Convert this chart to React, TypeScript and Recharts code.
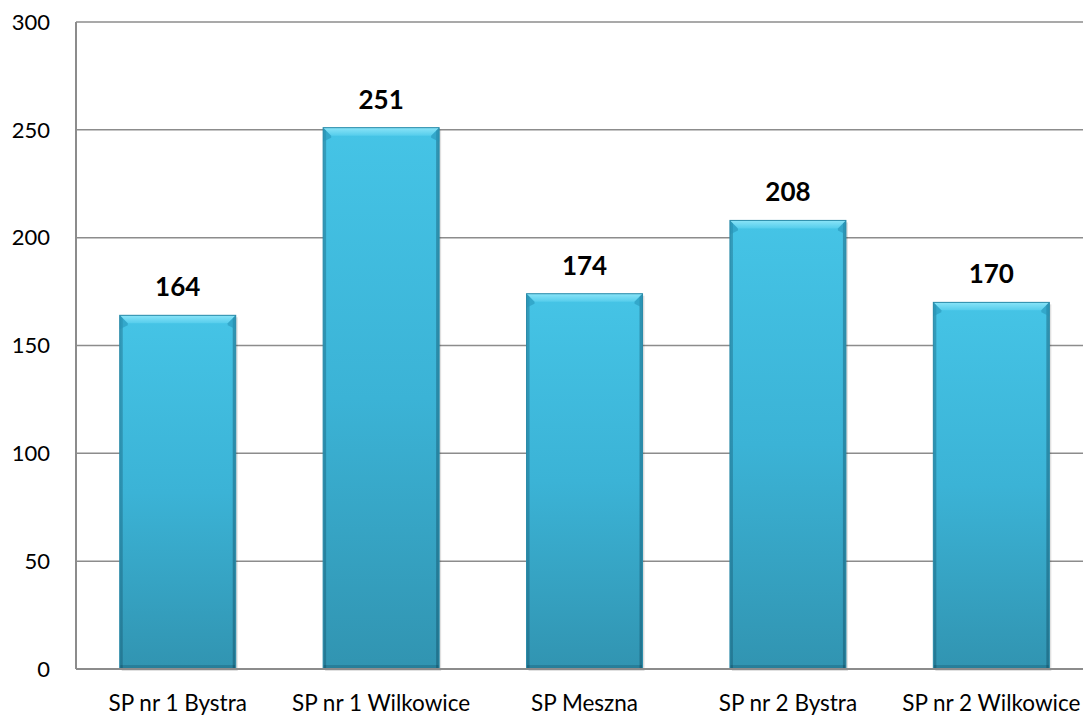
import { BarChart, Bar, XAxis, YAxis, CartesianGrid, LabelList } from "recharts";

const schools = [
  "SP nr 1 Bystra",
  "SP nr 1 Wilkowice",
  "SP Meszna",
  "SP nr 2 Bystra",
  "SP nr 2 Wilkowice",
];
const counts = [164, 251, 174, 208, 170];
const yTicks = [0, 50, 100, 150, 200, 250, 300];

const data = schools.map((name, i) => ({ name, value: counts[i] }));

const FONT = "Lato, 'Open Sans', sans-serif";

// bar with a bevelled top and darker side edges
const BevelBar = (props: any) => {
  const { x, y, width, height } = props;
  if (!height || height <= 0) return null;
  const b = 8;
  const s = 3;
  return (
    <g>
      <rect x={x + 2} y={y + 2} width={width} height={height} fill="rgba(0,0,0,0.12)" />
      <rect x={x} y={y} width={width} height={height} fill="url(#barFill)" />
      <rect x={x} y={y} width={s} height={height} fill="rgba(0,40,60,0.25)" />
      <rect x={x + width - s} y={y} width={s} height={height} fill="rgba(0,40,60,0.3)" />
      <polygon
        points={`${x},${y} ${x + width},${y} ${x + width - b},${y + b} ${x + b},${y + b}`}
        fill="url(#bevelFill)"
      />
      <polygon
        points={`${x},${y} ${x + b},${y + b} ${x + b},${y + b + 2} ${x},${y + b + 6}`}
        fill="rgba(40,150,185,0.6)"
      />
      <polygon
        points={`${x + width},${y} ${x + width - b},${y + b} ${x + width - b},${y + b + 2} ${x + width},${y + b + 6}`}
        fill="rgba(40,150,185,0.6)"
      />
      <rect x={x} y={y + height - 4} width={width} height={4} fill="rgba(0,40,60,0.2)" />
      <rect x={x} y={y} width={width} height={height} fill="none" stroke="#2a8aa8" strokeWidth={1} />
    </g>
  );
};

export default function App() {
  return (
    <div
      style={{
        position: "absolute",
        left: 0,
        top: 0,
        width: 1083,
        height: 716,
        overflow: "hidden",
        background: "#fff",
      }}
    >
      <BarChart
        width={1100}
        height={716}
        data={data}
        margin={{ top: 22, right: 7, left: 0, bottom: 0 }}
        barCategoryGap="21.5%"
      >
        <defs>
          <linearGradient id="barFill" x1="0" y1="0" x2="0" y2="1">
            <stop offset="0%" stopColor="#45c4e6" />
            <stop offset="50%" stopColor="#3bb3d6" />
            <stop offset="100%" stopColor="#3194b1" />
          </linearGradient>
          <linearGradient id="bevelFill" x1="0" y1="0" x2="0" y2="1">
            <stop offset="0%" stopColor="#8ae4f8" />
            <stop offset="100%" stopColor="#55cdec" />
          </linearGradient>
        </defs>
        <CartesianGrid vertical={false} stroke="#8c8c8c" strokeWidth={1.5} />
        <XAxis
          dataKey="name"
          height={47}
          axisLine={{ stroke: "#8c8c8c", strokeWidth: 2 }}
          tickLine={false}
          tickMargin={20}
          interval={0}
          tick={{ fill: "#000", fontSize: 22.5, fontFamily: FONT }}
        />
        <YAxis
          width={76}
          domain={[0, 300]}
          ticks={yTicks}
          axisLine={{ stroke: "#8c8c8c", strokeWidth: 2 }}
          tickLine={false}
          tickMargin={20}
          tick={{ fill: "#000", fontSize: 22, fontFamily: FONT }}
        />
        <Bar dataKey="value" shape={<BevelBar />} isAnimationActive={false}>
          <LabelList
            dataKey="value"
            position="top"
            offset={19}
            fill="#000"
            fontSize={26}
            fontWeight="bold"
            fontFamily={FONT}
          />
        </Bar>
      </BarChart>
    </div>
  );
}
